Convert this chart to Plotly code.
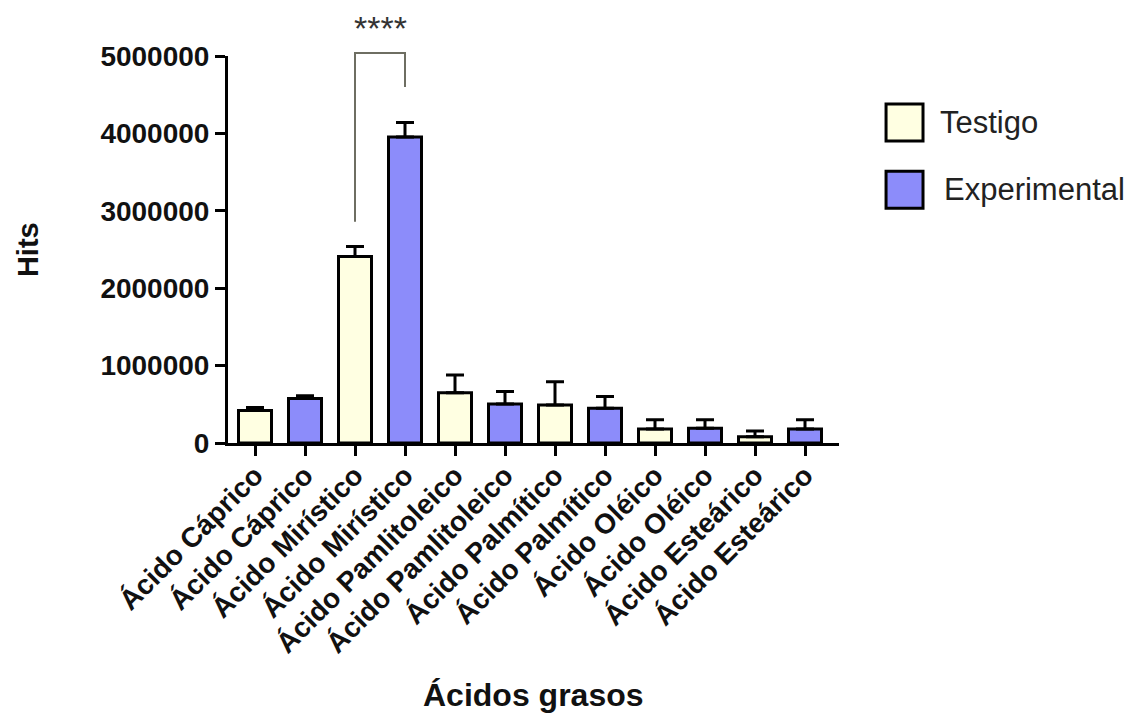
import plotly.graph_objects as go

# ---- data ----
acids = ["Ácido Cáprico", "Ácido Mirístico", "Ácido Pamlitoleico",
         "Ácido Palmítico", "Ácido Oléico", "Ácido Esteárico"]
testigo_vals = [420000, 2410000, 650000, 490000, 180000, 80000]
testigo_err = [40000, 130000, 230000, 300000, 120000, 75000]
experimental_vals = [575000, 3955000, 505000, 450000, 190000, 180000]
experimental_err = [35000, 185000, 160000, 150000, 110000, 120000]
y_ticks = [0, 1000000, 2000000, 3000000, 4000000, 5000000]
series_names = ["Testigo", "Experimental"]
sig_label = "****"

YMAX = 5000000
FONT = "Arial, Liberation Sans, sans-serif"
C_TEST = "#FFFFE2"
C_EXP = "#8C8CFA"

x_test = [2 * i for i in range(len(acids))]
x_exp = [2 * i + 1 for i in range(len(acids))]
tick_pos = sorted(x_test + x_exp)
tick_text = [acids[p // 2] for p in tick_pos]

fig = go.Figure()
for name, xs, vals, errs, col in [
    (series_names[0], x_test, testigo_vals, testigo_err, C_TEST),
    (series_names[1], x_exp, experimental_vals, experimental_err, C_EXP),
]:
    fig.add_trace(go.Bar(
        name=name, x=xs, y=vals, showlegend=False,
        marker=dict(color=col, line=dict(color="black", width=3)),
        error_y=dict(type="data", symmetric=False, array=errs,
                     arrayminus=[0] * len(errs), color="black",
                     thickness=3, width=9),
    ))

fig.update_layout(
    width=1133, height=716,
    margin=dict(l=228, r=294, t=56, b=273, autoexpand=False),
    paper_bgcolor="white", plot_bgcolor="white",
    bargap=0.34,
    font=dict(family=FONT, color="black"),
)
fig.update_xaxes(
    range=[-0.54, 11.68], tickmode="array", tickvals=tick_pos, ticktext=tick_text,
    tickangle=-45, showline=True, linecolor="black", linewidth=3,
    ticks="outside", ticklen=10, tickwidth=3, tickcolor="black",
    ticklabelstandoff=-8,
    showgrid=False, zeroline=False, automargin=False,
    tickfont=dict(family=FONT, size=28, weight="bold", color="#111"),
)
fig.update_yaxes(
    range=[0, YMAX], tickmode="array", tickvals=y_ticks,
    ticktext=[str(v) for v in y_ticks],
    showline=True, linecolor="black", linewidth=3,
    ticks="outside", ticklen=10, tickwidth=3, tickcolor="black",
    showgrid=False, zeroline=False, automargin=False,
    tickfont=dict(family=FONT, size=28, weight="bold", color="#111"),
)

# significance bracket (between Testigo & Experimental Mirístico)
i_t, i_e = x_test[1], x_exp[1]
left_bottom = (testigo_vals[1] + 450000) / YMAX
right_bottom = (experimental_vals[1] + experimental_err[1] + 460000) / YMAX
top = 5040000 / YMAX
fig.add_shape(type="path", xref="x", yref="paper",
              path=f"M {i_t} {left_bottom} L {i_t} {top} L {i_e} {top} L {i_e} {right_bottom}",
              line=dict(color="#6E6E62", width=2))
fig.add_annotation(x=(i_t + i_e) / 2, y=1.126, xref="x", yref="paper",
                   text=sig_label, showarrow=False,
                   font=dict(family=FONT, size=34, color="#333"))

# axis titles
fig.add_annotation(x=0.5, y=-0.651, xref="paper", yref="paper",
                   xanchor="center", yanchor="middle",
                   text="Ácidos grasos", showarrow=False,
                   font=dict(family=FONT, size=32, weight="bold", color="#111"))
fig.add_annotation(x=-0.327, y=0.499, xref="paper", yref="paper",
                   xanchor="center", yanchor="middle",
                   text="Hits", textangle=-90, showarrow=False,
                   font=dict(family=FONT, size=29, weight="bold", color="#111"))

# manual legend
legend_items = [(series_names[0], C_TEST, 0.876, 1.162), (series_names[1], C_EXP, 0.702, 1.169)]
for name, col, ytop, xtxt in legend_items:
    fig.add_shape(type="rect", xref="paper", yref="paper",
                  x0=1.077, x1=1.1375, y0=ytop - 0.0955, y1=ytop,
                  fillcolor=col, line=dict(color="black", width=3))
    fig.add_annotation(x=xtxt, y=ytop - 0.048, xref="paper", yref="paper",
                       text=name, showarrow=False, xanchor="left", yanchor="middle",
                       font=dict(family=FONT, size=31, color="#222"))

fig.write_html("out.html", config={"displayModeBar": False},
               post_script="document.body.style.margin='0';document.body.style.overflow='hidden';")
